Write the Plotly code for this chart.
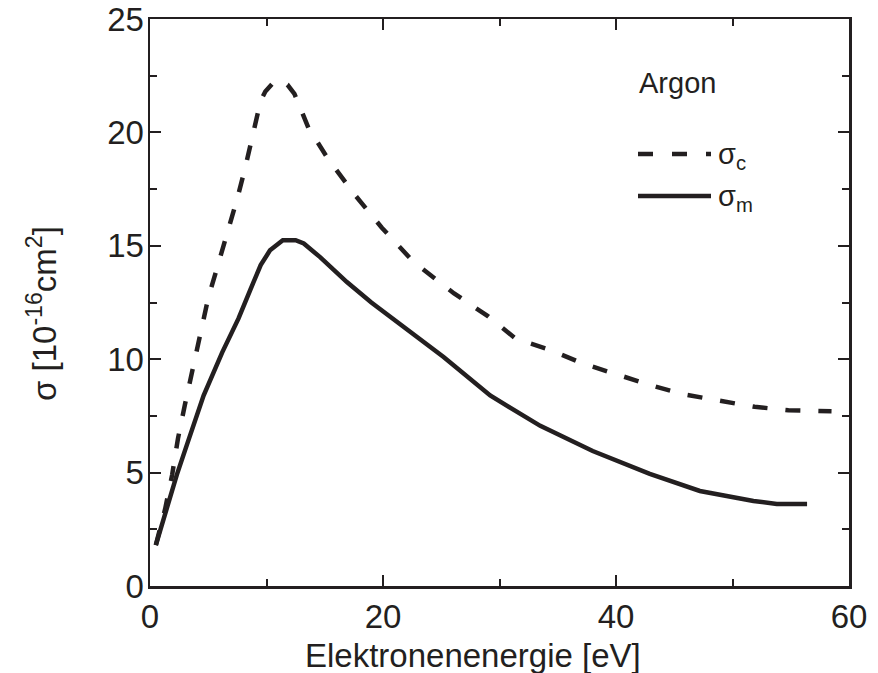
import plotly.graph_objects as go

# --- data ---
energy_c = [0.5, 1.3, 1.9, 2.4, 3.0, 3.7, 4.3, 5.0, 5.8, 6.7, 7.5, 8.2, 8.9, 9.5, 9.9,
            10.6, 11.2, 11.8, 12.4, 13.6, 15.2, 17.5, 19.9, 22.6, 26.1, 29.0, 31.4,
            34.4, 37.2, 40.2, 43.0, 45.8, 48.8, 51.9, 54.8, 57.0, 58.5]
sigma_c = [1.8, 3.4, 4.9, 6.5, 8.0, 9.6, 11.0, 12.7, 14.1, 15.6, 17.1, 18.5, 20.0, 21.4, 21.8,
           22.2, 22.3, 22.1, 21.7, 20.2, 18.9, 17.3, 15.8, 14.3, 12.9, 11.9, 10.9,
           10.4, 9.8, 9.3, 8.85, 8.45, 8.2, 7.9, 7.75, 7.7, 7.7]

energy_m = [0.5, 1.4, 2.3, 3.15, 3.9, 4.6, 6.2, 7.6, 8.6, 9.5, 10.3, 11.4, 12.5, 13.2,
            14.6, 16.9, 19.0, 21.5, 25.2, 29.2, 33.5, 38.0, 42.9, 47.2, 51.8, 53.8, 56.4]
sigma_m = [1.8, 3.4, 4.9, 6.2, 7.3, 8.4, 10.3, 11.8, 13.05, 14.15, 14.8, 15.25, 15.25, 15.1,
           14.5, 13.4, 12.5, 11.55, 10.1, 8.4, 7.06, 5.95, 4.94, 4.19, 3.75, 3.62, 3.62]

x_ticks = [0, 20, 40, 60]
y_ticks = [0, 5, 10, 15, 20, 25]

INK = "#231f20"
FONT = "Liberation Sans, Arial, sans-serif"

fig = go.Figure()
fig.add_trace(go.Scatter(x=energy_c, y=sigma_c, mode="lines", name="σc",
                         line=dict(color=INK, width=4.5, dash="15px,18px")))
fig.add_trace(go.Scatter(x=energy_m, y=sigma_m, mode="lines", name="σm",
                         line=dict(color=INK, width=4.5)))

axis_common = dict(
    showgrid=False, zeroline=False, showline=True, linecolor=INK, linewidth=2.5,
    mirror="ticks", ticks="inside", ticklen=11, tickwidth=2, tickcolor=INK,
    tickfont=dict(family=FONT, size=33, color=INK), automargin=False,
    ticklabeloverflow="allow",
)
fig.update_xaxes(range=[0, 60], tickvals=x_ticks, ticktext=[str(v) for v in x_ticks],
                 minor=dict(tickvals=[10, 30, 50], ticks="inside", ticklen=7,
                            tickwidth=2, tickcolor=INK),
                 **axis_common)
fig.update_yaxes(range=[0, 25], tickvals=y_ticks, ticktext=[str(v) for v in y_ticks],
                 minor=dict(tickvals=[2.5, 7.5, 12.5, 17.5, 22.5], ticks="inside", ticklen=7,
                            tickwidth=2, tickcolor=INK),
                 ticklabelstandoff=-3,
                 **axis_common)

W, H = 878, 673
L, R, T, B = 150, 29, 19, 87
pw, ph = W - L - R, H - T - B


def px(x):
    return (x - L) / pw


def py(y):
    return (H - B - y) / ph


annotations = [
    dict(text="Elektronenenergie [eV]", x=px(473), y=py(655), xref="paper", yref="paper",
         xanchor="center", yanchor="middle", showarrow=False,
         font=dict(family=FONT, size=33, color=INK)),
    dict(text="σ [10<sup>-16</sup>cm<sup>2</sup>]", x=px(42), y=py(313), xref="paper",
         yref="paper", xanchor="center", yanchor="middle", showarrow=False, textangle=-90,
         font=dict(family=FONT, size=33, color=INK)),
    dict(text="Argon", x=px(637), y=py(83), xref="paper", yref="paper",
         xanchor="left", yanchor="middle", showarrow=False,
         font=dict(family=FONT, size=29, color=INK)),
    dict(text="σ<sub>c</sub>", x=px(716), y=py(156), xref="paper", yref="paper",
         xanchor="left", yanchor="middle", showarrow=False,
         font=dict(family=FONT, size=29, color=INK)),
    dict(text="σ<sub>m</sub>", x=px(716), y=py(198), xref="paper", yref="paper",
         xanchor="left", yanchor="middle", showarrow=False,
         font=dict(family=FONT, size=29, color=INK)),
]

shapes = [
    dict(type="line", xref="paper", yref="paper", x0=px(638), x1=px(711), y0=py(154), y1=py(154),
         line=dict(color=INK, width=4.5, dash="15px,19px")),
    dict(type="line", xref="paper", yref="paper", x0=px(638), x1=px(711), y0=py(196), y1=py(196),
         line=dict(color=INK, width=4.5)),
]

fig.update_layout(
    width=W, height=H, margin=dict(l=L, r=R, t=T, b=B, autoexpand=False),
    paper_bgcolor="white", plot_bgcolor="white", showlegend=False,
    font=dict(family=FONT, color=INK),
    annotations=annotations, shapes=shapes,
)

fig.write_html(
    "out.html",
    config={"displayModeBar": False, "staticPlot": True},
    post_script="document.body.style.margin='0';document.body.style.overflow='hidden';",
)
